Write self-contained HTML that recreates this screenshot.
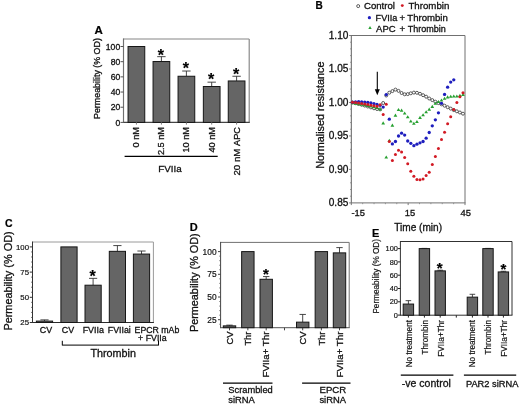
<!DOCTYPE html>
<html><head><meta charset="utf-8"><style>
html,body{margin:0;padding:0;background:#fff;}
body{width:520px;height:407px;overflow:hidden;}
svg{display:block;font-family:"Liberation Sans", sans-serif;filter:blur(0.3px);}
</style></head><body>
<svg width="520" height="407" viewBox="0 0 520 407">
<rect width="520" height="407" fill="#fff"/>
<text x="94.5" y="34.4" font-size="11.5" text-anchor="start" font-weight="bold" fill="#000" stroke="#000" stroke-width="0.2">A</text>
<line x1="123.5" y1="39" x2="249.2" y2="39" stroke="#858585" stroke-width="1.15"/>
<line x1="249.2" y1="39" x2="249.2" y2="122.4" stroke="#858585" stroke-width="1.15"/>
<line x1="123.5" y1="38.42" x2="123.5" y2="122.98" stroke="#707070" stroke-width="1.15"/>
<line x1="123.5" y1="122.4" x2="249.77" y2="122.4" stroke="#454545" stroke-width="1.15"/>
<line x1="120.5" y1="122.4" x2="123.5" y2="122.4" stroke="#555" stroke-width="1"/>
<text x="120.2" y="125.5" font-size="8.6" text-anchor="end" font-weight="normal" fill="#111" stroke="#111" stroke-width="0.3">0</text>
<line x1="120.5" y1="107.22" x2="123.5" y2="107.22" stroke="#555" stroke-width="1"/>
<text x="120.2" y="110.32" font-size="8.6" text-anchor="end" font-weight="normal" fill="#111" stroke="#111" stroke-width="0.3">20</text>
<line x1="120.5" y1="92.04" x2="123.5" y2="92.04" stroke="#555" stroke-width="1"/>
<text x="120.2" y="95.14" font-size="8.6" text-anchor="end" font-weight="normal" fill="#111" stroke="#111" stroke-width="0.3">40</text>
<line x1="120.5" y1="76.86" x2="123.5" y2="76.86" stroke="#555" stroke-width="1"/>
<text x="120.2" y="79.96" font-size="8.6" text-anchor="end" font-weight="normal" fill="#111" stroke="#111" stroke-width="0.3">60</text>
<line x1="120.5" y1="61.68" x2="123.5" y2="61.68" stroke="#555" stroke-width="1"/>
<text x="120.2" y="64.78" font-size="8.6" text-anchor="end" font-weight="normal" fill="#111" stroke="#111" stroke-width="0.3">80</text>
<line x1="120.5" y1="46.5" x2="123.5" y2="46.5" stroke="#555" stroke-width="1"/>
<text x="120.2" y="49.6" font-size="8.6" text-anchor="end" font-weight="normal" fill="#111" stroke="#111" stroke-width="0.3">100</text>
<rect x="128.05" y="46.5" width="16.7" height="75.9" fill="#656565" stroke="#161616" stroke-width="1"/>
<line x1="136.4" y1="122.4" x2="136.4" y2="124.6" stroke="#7a7a7a" stroke-width="1"/>
<line x1="161.4" y1="61.53" x2="161.4" y2="56.67" stroke="#333" stroke-width="0.9"/>
<line x1="157.2" y1="56.67" x2="165.6" y2="56.67" stroke="#333" stroke-width="0.9"/>
<rect x="153.05" y="61.53" width="16.7" height="60.87" fill="#656565" stroke="#161616" stroke-width="1"/>
<text x="160.8" y="60.54" font-size="16" text-anchor="middle" font-weight="bold" fill="#000" stroke="#000" stroke-width="0.2">*</text>
<line x1="161.4" y1="122.4" x2="161.4" y2="124.6" stroke="#7a7a7a" stroke-width="1"/>
<line x1="186.4" y1="76.25" x2="186.4" y2="71.02" stroke="#333" stroke-width="0.9"/>
<line x1="182.2" y1="71.02" x2="190.6" y2="71.02" stroke="#333" stroke-width="0.9"/>
<rect x="178.05" y="76.25" width="16.7" height="46.15" fill="#656565" stroke="#161616" stroke-width="1"/>
<text x="185.8" y="73.74" font-size="16" text-anchor="middle" font-weight="bold" fill="#000" stroke="#000" stroke-width="0.2">*</text>
<line x1="186.4" y1="122.4" x2="186.4" y2="124.6" stroke="#7a7a7a" stroke-width="1"/>
<line x1="211.7" y1="86.5" x2="211.7" y2="82.17" stroke="#333" stroke-width="0.9"/>
<line x1="207.5" y1="82.17" x2="215.9" y2="82.17" stroke="#333" stroke-width="0.9"/>
<rect x="203.35" y="86.5" width="16.7" height="35.9" fill="#656565" stroke="#161616" stroke-width="1"/>
<text x="211.1" y="85.34" font-size="16" text-anchor="middle" font-weight="bold" fill="#000" stroke="#000" stroke-width="0.2">*</text>
<line x1="211.7" y1="122.4" x2="211.7" y2="124.6" stroke="#7a7a7a" stroke-width="1"/>
<line x1="236.6" y1="80.96" x2="236.6" y2="76.25" stroke="#333" stroke-width="0.9"/>
<line x1="232.4" y1="76.25" x2="240.8" y2="76.25" stroke="#333" stroke-width="0.9"/>
<rect x="228.25" y="80.96" width="16.7" height="41.44" fill="#656565" stroke="#161616" stroke-width="1"/>
<text x="236" y="80.04" font-size="16" text-anchor="middle" font-weight="bold" fill="#000" stroke="#000" stroke-width="0.2">*</text>
<line x1="236.6" y1="122.4" x2="236.6" y2="124.6" stroke="#7a7a7a" stroke-width="1"/>
<text x="139.3" y="127" font-size="9.2" text-anchor="end" font-weight="normal" fill="#111" stroke="#111" stroke-width="0.3" transform="rotate(-90 139.3 127)">0 nM</text>
<text x="164.3" y="127" font-size="9.2" text-anchor="end" font-weight="normal" fill="#111" stroke="#111" stroke-width="0.3" transform="rotate(-90 164.3 127)">2.5 nM</text>
<text x="189.3" y="127" font-size="9.2" text-anchor="end" font-weight="normal" fill="#111" stroke="#111" stroke-width="0.3" transform="rotate(-90 189.3 127)">10 nM</text>
<text x="214.6" y="127" font-size="9.2" text-anchor="end" font-weight="normal" fill="#111" stroke="#111" stroke-width="0.3" transform="rotate(-90 214.6 127)">40 nM</text>
<text x="239.5" y="127" font-size="9.2" text-anchor="end" font-weight="normal" fill="#111" stroke="#111" stroke-width="0.3" transform="rotate(-90 239.5 127)"><tspan font-size="9.7">20 nM </tspan>APC</text>
<line x1="124.6" y1="156.3" x2="217.7" y2="156.3" stroke="#000" stroke-width="1.3"/>
<text x="158.3" y="171.6" font-size="9.8" text-anchor="start" font-weight="normal" fill="#111" stroke="#111" stroke-width="0.3">FVIIa</text>
<text x="99.9" y="119" font-size="8.9" text-anchor="start" font-weight="normal" fill="#111" stroke="#111" stroke-width="0.3" transform="rotate(-90 99.9 119)">Permeability (% OD)</text>
<text x="315.45" y="9" font-size="10" text-anchor="start" font-weight="bold" fill="#000" stroke="#000" stroke-width="0.2">B</text>
<line x1="351.3" y1="35.5" x2="465" y2="35.5" stroke="#707070" stroke-width="1"/>
<line x1="465" y1="35.5" x2="465" y2="202.9" stroke="#707070" stroke-width="1"/>
<line x1="351.3" y1="35" x2="351.3" y2="203.4" stroke="#606060" stroke-width="1"/>
<line x1="351.3" y1="202.9" x2="465.5" y2="202.9" stroke="#707070" stroke-width="1"/>
<line x1="349.1" y1="35.5" x2="351.3" y2="35.5" stroke="#7a7a7a" stroke-width="1"/>
<line x1="350" y1="42.2" x2="351.3" y2="42.2" stroke="#7a7a7a" stroke-width="0.7"/>
<line x1="350" y1="48.89" x2="351.3" y2="48.89" stroke="#7a7a7a" stroke-width="0.7"/>
<line x1="350" y1="55.59" x2="351.3" y2="55.59" stroke="#7a7a7a" stroke-width="0.7"/>
<line x1="350" y1="62.28" x2="351.3" y2="62.28" stroke="#7a7a7a" stroke-width="0.7"/>
<line x1="349.1" y1="68.98" x2="351.3" y2="68.98" stroke="#7a7a7a" stroke-width="1"/>
<line x1="350" y1="75.68" x2="351.3" y2="75.68" stroke="#7a7a7a" stroke-width="0.7"/>
<line x1="350" y1="82.37" x2="351.3" y2="82.37" stroke="#7a7a7a" stroke-width="0.7"/>
<line x1="350" y1="89.07" x2="351.3" y2="89.07" stroke="#7a7a7a" stroke-width="0.7"/>
<line x1="350" y1="95.76" x2="351.3" y2="95.76" stroke="#7a7a7a" stroke-width="0.7"/>
<line x1="349.1" y1="102.46" x2="351.3" y2="102.46" stroke="#7a7a7a" stroke-width="1"/>
<line x1="350" y1="109.16" x2="351.3" y2="109.16" stroke="#7a7a7a" stroke-width="0.7"/>
<line x1="350" y1="115.85" x2="351.3" y2="115.85" stroke="#7a7a7a" stroke-width="0.7"/>
<line x1="350" y1="122.55" x2="351.3" y2="122.55" stroke="#7a7a7a" stroke-width="0.7"/>
<line x1="350" y1="129.24" x2="351.3" y2="129.24" stroke="#7a7a7a" stroke-width="0.7"/>
<line x1="349.1" y1="135.94" x2="351.3" y2="135.94" stroke="#7a7a7a" stroke-width="1"/>
<line x1="350" y1="142.64" x2="351.3" y2="142.64" stroke="#7a7a7a" stroke-width="0.7"/>
<line x1="350" y1="149.33" x2="351.3" y2="149.33" stroke="#7a7a7a" stroke-width="0.7"/>
<line x1="350" y1="156.03" x2="351.3" y2="156.03" stroke="#7a7a7a" stroke-width="0.7"/>
<line x1="350" y1="162.72" x2="351.3" y2="162.72" stroke="#7a7a7a" stroke-width="0.7"/>
<line x1="349.1" y1="169.42" x2="351.3" y2="169.42" stroke="#7a7a7a" stroke-width="1"/>
<line x1="350" y1="176.12" x2="351.3" y2="176.12" stroke="#7a7a7a" stroke-width="0.7"/>
<line x1="350" y1="182.81" x2="351.3" y2="182.81" stroke="#7a7a7a" stroke-width="0.7"/>
<line x1="350" y1="189.51" x2="351.3" y2="189.51" stroke="#7a7a7a" stroke-width="0.7"/>
<line x1="350" y1="196.2" x2="351.3" y2="196.2" stroke="#7a7a7a" stroke-width="0.7"/>
<line x1="349.1" y1="202.9" x2="351.3" y2="202.9" stroke="#7a7a7a" stroke-width="1"/>
<text x="348.4" y="39" font-size="10.1" text-anchor="end" font-weight="normal" fill="#111" stroke="#111" stroke-width="0.3">1.10</text>
<text x="348.4" y="72.48" font-size="10.1" text-anchor="end" font-weight="normal" fill="#111" stroke="#111" stroke-width="0.3">1.05</text>
<text x="348.4" y="105.96" font-size="10.1" text-anchor="end" font-weight="normal" fill="#111" stroke="#111" stroke-width="0.3">1.00</text>
<text x="348.4" y="139.44" font-size="10.1" text-anchor="end" font-weight="normal" fill="#111" stroke="#111" stroke-width="0.3">0.95</text>
<text x="348.4" y="172.92" font-size="10.1" text-anchor="end" font-weight="normal" fill="#111" stroke="#111" stroke-width="0.3">0.90</text>
<text x="348.4" y="206.4" font-size="10.1" text-anchor="end" font-weight="normal" fill="#111" stroke="#111" stroke-width="0.3">0.85</text>
<line x1="351.3" y1="202.9" x2="351.3" y2="205.1" stroke="#7a7a7a" stroke-width="1"/>
<line x1="362.67" y1="202.9" x2="362.67" y2="204.2" stroke="#7a7a7a" stroke-width="0.7"/>
<line x1="374.04" y1="202.9" x2="374.04" y2="204.2" stroke="#7a7a7a" stroke-width="0.7"/>
<line x1="385.41" y1="202.9" x2="385.41" y2="204.2" stroke="#7a7a7a" stroke-width="0.7"/>
<line x1="396.78" y1="202.9" x2="396.78" y2="204.2" stroke="#7a7a7a" stroke-width="0.7"/>
<line x1="408.15" y1="202.9" x2="408.15" y2="205.1" stroke="#7a7a7a" stroke-width="1"/>
<line x1="419.52" y1="202.9" x2="419.52" y2="204.2" stroke="#7a7a7a" stroke-width="0.7"/>
<line x1="430.89" y1="202.9" x2="430.89" y2="204.2" stroke="#7a7a7a" stroke-width="0.7"/>
<line x1="442.26" y1="202.9" x2="442.26" y2="204.2" stroke="#7a7a7a" stroke-width="0.7"/>
<line x1="453.63" y1="202.9" x2="453.63" y2="204.2" stroke="#7a7a7a" stroke-width="0.7"/>
<line x1="465" y1="202.9" x2="465" y2="205.1" stroke="#7a7a7a" stroke-width="1"/>
<text x="351.4" y="216.4" font-size="9.4" text-anchor="start" font-weight="normal" fill="#111" stroke="#111" stroke-width="0.3">-15</text>
<text x="409.9" y="216.4" font-size="9.4" text-anchor="middle" font-weight="normal" fill="#111" stroke="#111" stroke-width="0.3">15</text>
<text x="465.8" y="216.4" font-size="9.4" text-anchor="middle" font-weight="normal" fill="#111" stroke="#111" stroke-width="0.3">45</text>
<text x="394.2" y="230.6" font-size="10.1" text-anchor="start" font-weight="normal" fill="#111" stroke="#111" stroke-width="0.3">Time (min)</text>
<text x="323.6" y="168.8" font-size="10.85" text-anchor="start" font-weight="normal" fill="#111" stroke="#111" stroke-width="0.3" transform="rotate(-90 323.6 168.8)">Normalised resistance</text>
<circle cx="358.2" cy="6.1" r="1.5" fill="#fff" stroke="#2a2a2a" stroke-width="0.75"/>
<text x="364" y="9.1" font-size="9.6" text-anchor="start" font-weight="normal" fill="#111" stroke="#111" stroke-width="0.3">Control</text>
<circle cx="402.3" cy="5.6" r="1.45" fill="#d21a24"/>
<text x="408.4" y="9.1" font-size="9.7" text-anchor="start" font-weight="normal" fill="#111" stroke="#111" stroke-width="0.3">Thrombin</text>
<circle cx="369.4" cy="17.7" r="1.6" fill="#1e1ebe"/>
<text x="375.6" y="20.9" font-size="9.1" text-anchor="start" font-weight="normal" fill="#111" stroke="#111" stroke-width="0.3">FVIIa</text>
<text x="402.4" y="20.9" font-size="9.5" text-anchor="middle" font-weight="normal" fill="#111" stroke="#111" stroke-width="0.3">+</text>
<text x="407.3" y="20.9" font-size="9.6" text-anchor="start" font-weight="normal" fill="#111" stroke="#111" stroke-width="0.3">Thrombin</text>
<path d="M368.3 28.9 L371.7 28.9 L370.0 26.0 Z" fill="#26a030"/>
<text x="376.1" y="31.5" font-size="9.5" text-anchor="start" font-weight="normal" fill="#111" stroke="#111" stroke-width="0.3">APC</text>
<text x="402.3" y="31.6" font-size="9.6" text-anchor="middle" font-weight="normal" fill="#111" stroke="#111" stroke-width="0.3">+</text>
<text x="407.7" y="31.5" font-size="9.0" text-anchor="start" font-weight="normal" fill="#111" stroke="#111" stroke-width="0.3">Thrombin</text>
<line x1="377.3" y1="71.8" x2="377.3" y2="90.5" stroke="#000" stroke-width="1.1"/>
<path d="M374.8 89.2 L379.8 89.2 L377.3 95.2 Z" fill="#000"/>
<circle cx="352.47" cy="102.4" r="1.5" fill="#fff" stroke="#2a2a2a" stroke-width="0.75"/>
<circle cx="355.54" cy="103.2" r="1.5" fill="#fff" stroke="#2a2a2a" stroke-width="0.75"/>
<circle cx="358.61" cy="104" r="1.5" fill="#fff" stroke="#2a2a2a" stroke-width="0.75"/>
<circle cx="361.68" cy="104.8" r="1.5" fill="#fff" stroke="#2a2a2a" stroke-width="0.75"/>
<circle cx="364.75" cy="105.6" r="1.5" fill="#fff" stroke="#2a2a2a" stroke-width="0.75"/>
<circle cx="367.82" cy="106.5" r="1.5" fill="#fff" stroke="#2a2a2a" stroke-width="0.75"/>
<circle cx="370.89" cy="107.4" r="1.5" fill="#fff" stroke="#2a2a2a" stroke-width="0.75"/>
<circle cx="373.96" cy="108.3" r="1.5" fill="#fff" stroke="#2a2a2a" stroke-width="0.75"/>
<circle cx="377.03" cy="109" r="1.5" fill="#fff" stroke="#2a2a2a" stroke-width="0.75"/>
<circle cx="380.1" cy="109.4" r="1.5" fill="#fff" stroke="#2a2a2a" stroke-width="0.75"/>
<circle cx="383.17" cy="103" r="1.5" fill="#fff" stroke="#2a2a2a" stroke-width="0.75"/>
<circle cx="386.24" cy="95.5" r="1.5" fill="#fff" stroke="#2a2a2a" stroke-width="0.75"/>
<circle cx="389.31" cy="92.7" r="1.5" fill="#fff" stroke="#2a2a2a" stroke-width="0.75"/>
<circle cx="392.38" cy="91.1" r="1.5" fill="#fff" stroke="#2a2a2a" stroke-width="0.75"/>
<circle cx="395.45" cy="89.6" r="1.5" fill="#fff" stroke="#2a2a2a" stroke-width="0.75"/>
<circle cx="398.52" cy="90.9" r="1.5" fill="#fff" stroke="#2a2a2a" stroke-width="0.75"/>
<circle cx="401.59" cy="93" r="1.5" fill="#fff" stroke="#2a2a2a" stroke-width="0.75"/>
<circle cx="404.66" cy="94.3" r="1.5" fill="#fff" stroke="#2a2a2a" stroke-width="0.75"/>
<circle cx="407.73" cy="94.1" r="1.5" fill="#fff" stroke="#2a2a2a" stroke-width="0.75"/>
<circle cx="410.8" cy="93.3" r="1.5" fill="#fff" stroke="#2a2a2a" stroke-width="0.75"/>
<circle cx="413.87" cy="92.6" r="1.5" fill="#fff" stroke="#2a2a2a" stroke-width="0.75"/>
<circle cx="416.94" cy="92.8" r="1.5" fill="#fff" stroke="#2a2a2a" stroke-width="0.75"/>
<circle cx="420.01" cy="93.8" r="1.5" fill="#fff" stroke="#2a2a2a" stroke-width="0.75"/>
<circle cx="423.08" cy="95.2" r="1.5" fill="#fff" stroke="#2a2a2a" stroke-width="0.75"/>
<circle cx="426.15" cy="96.7" r="1.5" fill="#fff" stroke="#2a2a2a" stroke-width="0.75"/>
<circle cx="429.22" cy="98.5" r="1.5" fill="#fff" stroke="#2a2a2a" stroke-width="0.75"/>
<circle cx="432.29" cy="100.1" r="1.5" fill="#fff" stroke="#2a2a2a" stroke-width="0.75"/>
<circle cx="435.36" cy="101.7" r="1.5" fill="#fff" stroke="#2a2a2a" stroke-width="0.75"/>
<circle cx="438.43" cy="103.1" r="1.5" fill="#fff" stroke="#2a2a2a" stroke-width="0.75"/>
<circle cx="441.5" cy="104.3" r="1.5" fill="#fff" stroke="#2a2a2a" stroke-width="0.75"/>
<circle cx="444.57" cy="105.7" r="1.5" fill="#fff" stroke="#2a2a2a" stroke-width="0.75"/>
<circle cx="447.64" cy="107.2" r="1.5" fill="#fff" stroke="#2a2a2a" stroke-width="0.75"/>
<circle cx="450.71" cy="108.6" r="1.5" fill="#fff" stroke="#2a2a2a" stroke-width="0.75"/>
<circle cx="453.78" cy="110.1" r="1.5" fill="#fff" stroke="#2a2a2a" stroke-width="0.75"/>
<circle cx="456.85" cy="111.3" r="1.5" fill="#fff" stroke="#2a2a2a" stroke-width="0.75"/>
<circle cx="459.92" cy="112.5" r="1.5" fill="#fff" stroke="#2a2a2a" stroke-width="0.75"/>
<circle cx="462.99" cy="113.7" r="1.5" fill="#fff" stroke="#2a2a2a" stroke-width="0.75"/>
<path d="M350.62 104.3 L354.32 104.3 L352.47 101.2 Z" fill="#26a030"/>
<path d="M353.69 104.8 L357.39 104.8 L355.54 101.7 Z" fill="#26a030"/>
<path d="M356.76 105.3 L360.46 105.3 L358.61 102.2 Z" fill="#26a030"/>
<path d="M359.83 105.8 L363.53 105.8 L361.68 102.7 Z" fill="#26a030"/>
<path d="M362.9 106.3 L366.6 106.3 L364.75 103.2 Z" fill="#26a030"/>
<path d="M365.97 106.9 L369.67 106.9 L367.82 103.8 Z" fill="#26a030"/>
<path d="M369.04 107.6 L372.74 107.6 L370.89 104.5 Z" fill="#26a030"/>
<path d="M372.11 108.3 L375.81 108.3 L373.96 105.2 Z" fill="#26a030"/>
<path d="M375.18 109.1 L378.88 109.1 L377.03 106 Z" fill="#26a030"/>
<path d="M378.25 110.6 L381.95 110.6 L380.1 107.5 Z" fill="#26a030"/>
<path d="M381.32 124.4 L385.02 124.4 L383.17 121.3 Z" fill="#26a030"/>
<path d="M384.39 158.6 L388.09 158.6 L386.24 155.5 Z" fill="#26a030"/>
<path d="M387.46 141.8 L391.16 141.8 L389.31 138.7 Z" fill="#26a030"/>
<path d="M390.53 126.7 L394.23 126.7 L392.38 123.6 Z" fill="#26a030"/>
<path d="M393.6 116.7 L397.3 116.7 L395.45 113.6 Z" fill="#26a030"/>
<path d="M396.67 111.1 L400.37 111.1 L398.52 108 Z" fill="#26a030"/>
<path d="M399.74 111.7 L403.44 111.7 L401.59 108.6 Z" fill="#26a030"/>
<path d="M402.81 114.5 L406.51 114.5 L404.66 111.4 Z" fill="#26a030"/>
<path d="M405.88 118.3 L409.58 118.3 L407.73 115.2 Z" fill="#26a030"/>
<path d="M408.95 122.6 L412.65 122.6 L410.8 119.5 Z" fill="#26a030"/>
<path d="M412.02 124.8 L415.72 124.8 L413.87 121.7 Z" fill="#26a030"/>
<path d="M415.09 123 L418.79 123 L416.94 119.9 Z" fill="#26a030"/>
<path d="M418.16 118.9 L421.86 118.9 L420.01 115.8 Z" fill="#26a030"/>
<path d="M421.23 116.3 L424.93 116.3 L423.08 113.2 Z" fill="#26a030"/>
<path d="M424.3 113.3 L428 113.3 L426.15 110.2 Z" fill="#26a030"/>
<path d="M427.37 110.7 L431.07 110.7 L429.22 107.6 Z" fill="#26a030"/>
<path d="M430.44 107.9 L434.14 107.9 L432.29 104.8 Z" fill="#26a030"/>
<path d="M433.51 104.8 L437.21 104.8 L435.36 101.7 Z" fill="#26a030"/>
<path d="M436.58 103 L440.28 103 L438.43 99.9 Z" fill="#26a030"/>
<path d="M439.65 101.5 L443.35 101.5 L441.5 98.4 Z" fill="#26a030"/>
<path d="M442.72 99.8 L446.42 99.8 L444.57 96.7 Z" fill="#26a030"/>
<path d="M445.79 98.4 L449.49 98.4 L447.64 95.3 Z" fill="#26a030"/>
<path d="M448.86 97.8 L452.56 97.8 L450.71 94.7 Z" fill="#26a030"/>
<path d="M451.93 97.5 L455.63 97.5 L453.78 94.4 Z" fill="#26a030"/>
<path d="M455 97.5 L458.7 97.5 L456.85 94.4 Z" fill="#26a030"/>
<path d="M458.07 96.9 L461.77 96.9 L459.92 93.8 Z" fill="#26a030"/>
<path d="M461.14 96.1 L464.84 96.1 L462.99 93 Z" fill="#26a030"/>
<circle cx="352.47" cy="102.3" r="1.65" fill="#1e1ebe"/>
<circle cx="355.54" cy="102" r="1.65" fill="#1e1ebe"/>
<circle cx="358.61" cy="101.6" r="1.65" fill="#1e1ebe"/>
<circle cx="361.68" cy="101.8" r="1.65" fill="#1e1ebe"/>
<circle cx="364.75" cy="102.1" r="1.65" fill="#1e1ebe"/>
<circle cx="367.82" cy="102.5" r="1.65" fill="#1e1ebe"/>
<circle cx="370.89" cy="103" r="1.65" fill="#1e1ebe"/>
<circle cx="373.96" cy="103.6" r="1.65" fill="#1e1ebe"/>
<circle cx="377.03" cy="104.4" r="1.65" fill="#1e1ebe"/>
<circle cx="380.1" cy="105.3" r="1.65" fill="#1e1ebe"/>
<circle cx="383.17" cy="107.1" r="1.65" fill="#1e1ebe"/>
<circle cx="386.24" cy="94.6" r="1.65" fill="#1e1ebe"/>
<circle cx="389.31" cy="119.2" r="1.65" fill="#1e1ebe"/>
<circle cx="392.38" cy="143.9" r="1.65" fill="#1e1ebe"/>
<circle cx="395.45" cy="141.5" r="1.65" fill="#1e1ebe"/>
<circle cx="398.52" cy="136" r="1.65" fill="#1e1ebe"/>
<circle cx="401.59" cy="133.2" r="1.65" fill="#1e1ebe"/>
<circle cx="404.66" cy="135.1" r="1.65" fill="#1e1ebe"/>
<circle cx="407.73" cy="141" r="1.65" fill="#1e1ebe"/>
<circle cx="410.8" cy="143.3" r="1.65" fill="#1e1ebe"/>
<circle cx="413.87" cy="145.7" r="1.65" fill="#1e1ebe"/>
<circle cx="416.94" cy="144.2" r="1.65" fill="#1e1ebe"/>
<circle cx="420.01" cy="142.8" r="1.65" fill="#1e1ebe"/>
<circle cx="423.08" cy="141.5" r="1.65" fill="#1e1ebe"/>
<circle cx="426.15" cy="138.2" r="1.65" fill="#1e1ebe"/>
<circle cx="429.22" cy="132.5" r="1.65" fill="#1e1ebe"/>
<circle cx="432.29" cy="125.8" r="1.65" fill="#1e1ebe"/>
<circle cx="435.36" cy="119.8" r="1.65" fill="#1e1ebe"/>
<circle cx="438.43" cy="112.8" r="1.65" fill="#1e1ebe"/>
<circle cx="441.5" cy="103.3" r="1.65" fill="#1e1ebe"/>
<circle cx="444.57" cy="94.4" r="1.65" fill="#1e1ebe"/>
<circle cx="447.64" cy="87.2" r="1.65" fill="#1e1ebe"/>
<circle cx="450.71" cy="82.1" r="1.65" fill="#1e1ebe"/>
<circle cx="453.78" cy="79.8" r="1.65" fill="#1e1ebe"/>
<circle cx="352.47" cy="102.2" r="1.5" fill="#d21a24"/>
<circle cx="355.54" cy="102.6" r="1.5" fill="#d21a24"/>
<circle cx="358.61" cy="103.1" r="1.5" fill="#d21a24"/>
<circle cx="361.68" cy="103.6" r="1.5" fill="#d21a24"/>
<circle cx="364.75" cy="104.1" r="1.5" fill="#d21a24"/>
<circle cx="367.82" cy="104.6" r="1.5" fill="#d21a24"/>
<circle cx="370.89" cy="105.2" r="1.5" fill="#d21a24"/>
<circle cx="373.96" cy="105.7" r="1.5" fill="#d21a24"/>
<circle cx="377.03" cy="106.2" r="1.5" fill="#d21a24"/>
<circle cx="380.1" cy="104.7" r="1.5" fill="#d21a24"/>
<circle cx="383.17" cy="114.6" r="1.5" fill="#d21a24"/>
<circle cx="386.24" cy="104.2" r="1.5" fill="#d21a24"/>
<circle cx="389.31" cy="141.5" r="1.5" fill="#d21a24"/>
<circle cx="392.38" cy="160.5" r="1.5" fill="#d21a24"/>
<circle cx="395.45" cy="154.5" r="1.5" fill="#d21a24"/>
<circle cx="398.52" cy="150.3" r="1.5" fill="#d21a24"/>
<circle cx="401.59" cy="151.9" r="1.5" fill="#d21a24"/>
<circle cx="404.66" cy="157.6" r="1.5" fill="#d21a24"/>
<circle cx="407.73" cy="163.7" r="1.5" fill="#d21a24"/>
<circle cx="410.8" cy="171.3" r="1.5" fill="#d21a24"/>
<circle cx="413.87" cy="176.3" r="1.5" fill="#d21a24"/>
<circle cx="416.94" cy="179.4" r="1.5" fill="#d21a24"/>
<circle cx="420.01" cy="179.8" r="1.5" fill="#d21a24"/>
<circle cx="423.08" cy="179" r="1.5" fill="#d21a24"/>
<circle cx="426.15" cy="175.6" r="1.5" fill="#d21a24"/>
<circle cx="429.22" cy="172.2" r="1.5" fill="#d21a24"/>
<circle cx="432.29" cy="164.6" r="1.5" fill="#d21a24"/>
<circle cx="435.36" cy="156.5" r="1.5" fill="#d21a24"/>
<circle cx="438.43" cy="148.5" r="1.5" fill="#d21a24"/>
<circle cx="441.5" cy="139.4" r="1.5" fill="#d21a24"/>
<circle cx="444.57" cy="132.3" r="1.5" fill="#d21a24"/>
<circle cx="447.64" cy="123.8" r="1.5" fill="#d21a24"/>
<circle cx="450.71" cy="116.8" r="1.5" fill="#d21a24"/>
<circle cx="453.78" cy="109.6" r="1.5" fill="#d21a24"/>
<circle cx="456.85" cy="102.5" r="1.5" fill="#d21a24"/>
<circle cx="459.92" cy="96.7" r="1.5" fill="#d21a24"/>
<circle cx="462.99" cy="92.7" r="1.5" fill="#d21a24"/>
<text x="4.9" y="226.7" font-size="10.5" text-anchor="start" font-weight="bold" fill="#000" stroke="#000" stroke-width="0.2">C</text>
<line x1="32.5" y1="242" x2="153.4" y2="242" stroke="#9a9a9a" stroke-width="1"/>
<line x1="153.4" y1="242" x2="153.4" y2="322.5" stroke="#9a9a9a" stroke-width="1"/>
<line x1="32.5" y1="241.5" x2="32.5" y2="323" stroke="#333" stroke-width="1"/>
<line x1="32.5" y1="322.5" x2="153.9" y2="322.5" stroke="#2a2a2a" stroke-width="1"/>
<line x1="29.7" y1="322.5" x2="32.5" y2="322.5" stroke="#333" stroke-width="1"/>
<text x="29" y="325.2" font-size="7.8" text-anchor="end" font-weight="normal" fill="#111" stroke="#111" stroke-width="0.18">25</text>
<line x1="31" y1="317.46" x2="32.5" y2="317.46" stroke="#444" stroke-width="0.7"/>
<line x1="31" y1="312.42" x2="32.5" y2="312.42" stroke="#444" stroke-width="0.7"/>
<line x1="31" y1="307.38" x2="32.5" y2="307.38" stroke="#444" stroke-width="0.7"/>
<line x1="31" y1="302.34" x2="32.5" y2="302.34" stroke="#444" stroke-width="0.7"/>
<line x1="29.7" y1="297.3" x2="32.5" y2="297.3" stroke="#333" stroke-width="1"/>
<text x="29" y="300" font-size="7.8" text-anchor="end" font-weight="normal" fill="#111" stroke="#111" stroke-width="0.18">50</text>
<line x1="31" y1="292.26" x2="32.5" y2="292.26" stroke="#444" stroke-width="0.7"/>
<line x1="31" y1="287.22" x2="32.5" y2="287.22" stroke="#444" stroke-width="0.7"/>
<line x1="31" y1="282.18" x2="32.5" y2="282.18" stroke="#444" stroke-width="0.7"/>
<line x1="31" y1="277.14" x2="32.5" y2="277.14" stroke="#444" stroke-width="0.7"/>
<line x1="29.7" y1="272.1" x2="32.5" y2="272.1" stroke="#333" stroke-width="1"/>
<text x="29" y="274.8" font-size="7.8" text-anchor="end" font-weight="normal" fill="#111" stroke="#111" stroke-width="0.18">75</text>
<line x1="31" y1="267.06" x2="32.5" y2="267.06" stroke="#444" stroke-width="0.7"/>
<line x1="31" y1="262.02" x2="32.5" y2="262.02" stroke="#444" stroke-width="0.7"/>
<line x1="31" y1="256.98" x2="32.5" y2="256.98" stroke="#444" stroke-width="0.7"/>
<line x1="31" y1="251.94" x2="32.5" y2="251.94" stroke="#444" stroke-width="0.7"/>
<line x1="29.7" y1="246.9" x2="32.5" y2="246.9" stroke="#333" stroke-width="1"/>
<text x="29" y="249.6" font-size="7.8" text-anchor="end" font-weight="normal" fill="#111" stroke="#111" stroke-width="0.18">100</text>
<line x1="44.5" y1="321.09" x2="44.5" y2="319.88" stroke="#333" stroke-width="0.9"/>
<line x1="40.4" y1="319.88" x2="48.6" y2="319.88" stroke="#333" stroke-width="0.9"/>
<rect x="36.4" y="321.09" width="16.2" height="1.41" fill="#656565" stroke="#161616" stroke-width="1"/>
<rect x="60.9" y="246.9" width="16.2" height="75.6" fill="#656565" stroke="#161616" stroke-width="1"/>
<line x1="93.1" y1="285.2" x2="93.1" y2="278.35" stroke="#333" stroke-width="0.9"/>
<line x1="89" y1="278.35" x2="97.2" y2="278.35" stroke="#333" stroke-width="0.9"/>
<rect x="85" y="285.2" width="16.2" height="37.3" fill="#656565" stroke="#161616" stroke-width="1"/>
<line x1="117.4" y1="251.34" x2="117.4" y2="245.59" stroke="#333" stroke-width="0.9"/>
<line x1="113.3" y1="245.59" x2="121.5" y2="245.59" stroke="#333" stroke-width="0.9"/>
<rect x="109.3" y="251.34" width="16.2" height="71.16" fill="#656565" stroke="#161616" stroke-width="1"/>
<line x1="141.5" y1="254.06" x2="141.5" y2="251.03" stroke="#333" stroke-width="0.9"/>
<line x1="137.4" y1="251.03" x2="145.6" y2="251.03" stroke="#333" stroke-width="0.9"/>
<rect x="133.4" y="254.06" width="16.2" height="68.44" fill="#656565" stroke="#161616" stroke-width="1"/>
<text x="92.5" y="281.94" font-size="16" text-anchor="middle" font-weight="bold" fill="#000" stroke="#000" stroke-width="0.2">*</text>
<text x="46" y="332.6" font-size="8.9" text-anchor="middle" font-weight="normal" fill="#111" stroke="#111" stroke-width="0.3">CV</text>
<text x="68" y="332.6" font-size="8.9" text-anchor="middle" font-weight="normal" fill="#111" stroke="#111" stroke-width="0.3">CV</text>
<text x="93.3" y="332.6" font-size="8.9" text-anchor="middle" font-weight="normal" fill="#111" stroke="#111" stroke-width="0.3">FVIIa</text>
<text x="107.8" y="332.6" font-size="8.8" text-anchor="start" font-weight="normal" fill="#111" stroke="#111" stroke-width="0.3">FVIIai</text>
<text x="134.6" y="332.6" font-size="8.75" text-anchor="start" font-weight="normal" fill="#111" stroke="#111" stroke-width="0.3">EPCR mAb</text>
<text x="138.1" y="340.7" font-size="8.8" text-anchor="start" font-weight="normal" fill="#111" stroke="#111" stroke-width="0.3">+ FVIIa</text>
<line x1="62.3" y1="340.8" x2="62.3" y2="345.4" stroke="#000" stroke-width="1"/>
<line x1="62.3" y1="345.1" x2="158.5" y2="345.1" stroke="#000" stroke-width="1"/>
<line x1="158.5" y1="340.8" x2="158.5" y2="345.4" stroke="#000" stroke-width="1"/>
<text x="90.4" y="356.9" font-size="10.8" text-anchor="start" font-weight="normal" fill="#111" stroke="#111" stroke-width="0.3">Thrombin</text>
<text x="12.2" y="330.6" font-size="10.9" text-anchor="start" font-weight="normal" fill="#111" stroke="#111" stroke-width="0.3" transform="rotate(-90 12.2 330.6)">Permeability (% OD)</text>
<text x="189.7" y="231.3" font-size="11" text-anchor="start" font-weight="bold" fill="#000" stroke="#000" stroke-width="0.2">D</text>
<line x1="220.6" y1="242.4" x2="349.2" y2="242.4" stroke="#707070" stroke-width="1"/>
<line x1="349.2" y1="242.4" x2="349.2" y2="327.7" stroke="#707070" stroke-width="1"/>
<line x1="220.6" y1="241.9" x2="220.6" y2="328.2" stroke="#444" stroke-width="1"/>
<line x1="220.6" y1="327.7" x2="349.7" y2="327.7" stroke="#555" stroke-width="1"/>
<line x1="219.2" y1="324.24" x2="220.6" y2="324.24" stroke="#555" stroke-width="0.7"/>
<line x1="218" y1="319.7" x2="220.6" y2="319.7" stroke="#444" stroke-width="1"/>
<text x="216.6" y="322.7" font-size="8.4" text-anchor="end" font-weight="normal" fill="#111" stroke="#111" stroke-width="0.18">25</text>
<line x1="219.2" y1="315.16" x2="220.6" y2="315.16" stroke="#555" stroke-width="0.7"/>
<line x1="219.2" y1="310.62" x2="220.6" y2="310.62" stroke="#555" stroke-width="0.7"/>
<line x1="219.2" y1="306.08" x2="220.6" y2="306.08" stroke="#555" stroke-width="0.7"/>
<line x1="219.2" y1="301.54" x2="220.6" y2="301.54" stroke="#555" stroke-width="0.7"/>
<line x1="218" y1="297" x2="220.6" y2="297" stroke="#444" stroke-width="1"/>
<text x="216.6" y="300" font-size="8.4" text-anchor="end" font-weight="normal" fill="#111" stroke="#111" stroke-width="0.18">50</text>
<line x1="219.2" y1="292.46" x2="220.6" y2="292.46" stroke="#555" stroke-width="0.7"/>
<line x1="219.2" y1="287.92" x2="220.6" y2="287.92" stroke="#555" stroke-width="0.7"/>
<line x1="219.2" y1="283.38" x2="220.6" y2="283.38" stroke="#555" stroke-width="0.7"/>
<line x1="219.2" y1="278.84" x2="220.6" y2="278.84" stroke="#555" stroke-width="0.7"/>
<line x1="218" y1="274.3" x2="220.6" y2="274.3" stroke="#444" stroke-width="1"/>
<text x="216.6" y="277.3" font-size="8.4" text-anchor="end" font-weight="normal" fill="#111" stroke="#111" stroke-width="0.18">75</text>
<line x1="219.2" y1="269.76" x2="220.6" y2="269.76" stroke="#555" stroke-width="0.7"/>
<line x1="219.2" y1="265.22" x2="220.6" y2="265.22" stroke="#555" stroke-width="0.7"/>
<line x1="219.2" y1="260.68" x2="220.6" y2="260.68" stroke="#555" stroke-width="0.7"/>
<line x1="219.2" y1="256.14" x2="220.6" y2="256.14" stroke="#555" stroke-width="0.7"/>
<line x1="218" y1="251.6" x2="220.6" y2="251.6" stroke="#444" stroke-width="1"/>
<text x="216.6" y="254.6" font-size="8.4" text-anchor="end" font-weight="normal" fill="#111" stroke="#111" stroke-width="0.18">100</text>
<line x1="229.5" y1="327.7" x2="229.5" y2="330.3" stroke="#444" stroke-width="1"/>
<line x1="229.5" y1="325.87" x2="229.5" y2="325.15" stroke="#333" stroke-width="0.9"/>
<line x1="226.3" y1="325.15" x2="232.7" y2="325.15" stroke="#333" stroke-width="0.9"/>
<rect x="223.3" y="325.87" width="12.4" height="1.83" fill="#656565" stroke="#161616" stroke-width="1"/>
<line x1="247.85" y1="327.7" x2="247.85" y2="330.3" stroke="#444" stroke-width="1"/>
<rect x="241.65" y="251.6" width="12.4" height="76.1" fill="#656565" stroke="#161616" stroke-width="1"/>
<line x1="266.2" y1="327.7" x2="266.2" y2="330.3" stroke="#444" stroke-width="1"/>
<line x1="266.2" y1="279.29" x2="266.2" y2="276.57" stroke="#333" stroke-width="0.9"/>
<line x1="263" y1="276.57" x2="269.4" y2="276.57" stroke="#333" stroke-width="0.9"/>
<rect x="260" y="279.29" width="12.4" height="48.41" fill="#656565" stroke="#161616" stroke-width="1"/>
<line x1="284.5" y1="327.7" x2="284.5" y2="330.3" stroke="#444" stroke-width="1"/>
<line x1="302.7" y1="327.7" x2="302.7" y2="330.3" stroke="#444" stroke-width="1"/>
<line x1="302.7" y1="322.15" x2="302.7" y2="314.43" stroke="#333" stroke-width="0.9"/>
<line x1="299.5" y1="314.43" x2="305.9" y2="314.43" stroke="#333" stroke-width="0.9"/>
<rect x="296.5" y="322.15" width="12.4" height="5.55" fill="#656565" stroke="#161616" stroke-width="1"/>
<line x1="321.35" y1="327.7" x2="321.35" y2="330.3" stroke="#444" stroke-width="1"/>
<rect x="315.15" y="251.6" width="12.4" height="76.1" fill="#656565" stroke="#161616" stroke-width="1"/>
<line x1="339.5" y1="327.7" x2="339.5" y2="330.3" stroke="#444" stroke-width="1"/>
<line x1="339.5" y1="252.87" x2="339.5" y2="247.6" stroke="#333" stroke-width="0.9"/>
<line x1="336.3" y1="247.6" x2="342.7" y2="247.6" stroke="#333" stroke-width="0.9"/>
<rect x="333.3" y="252.87" width="12.4" height="74.83" fill="#656565" stroke="#161616" stroke-width="1"/>
<text x="265.8" y="278.75" font-size="15" text-anchor="middle" font-weight="bold" fill="#000" stroke="#000" stroke-width="0.2">*</text>
<text x="232.8" y="331.6" font-size="9.3" text-anchor="end" font-weight="normal" fill="#111" stroke="#111" stroke-width="0.3" transform="rotate(-90 232.8 331.6)">CV</text>
<text x="251.15" y="331.6" font-size="9.3" text-anchor="end" font-weight="normal" fill="#111" stroke="#111" stroke-width="0.3" transform="rotate(-90 251.15 331.6)">Thr</text>
<text x="269.5" y="331.6" font-size="9.7" text-anchor="end" font-weight="normal" fill="#111" stroke="#111" stroke-width="0.3" transform="rotate(-90 269.5 331.6)">FVIIa+ Thr</text>
<text x="306" y="331.6" font-size="9.3" text-anchor="end" font-weight="normal" fill="#111" stroke="#111" stroke-width="0.3" transform="rotate(-90 306 331.6)">CV</text>
<text x="324.65" y="331.6" font-size="9.3" text-anchor="end" font-weight="normal" fill="#111" stroke="#111" stroke-width="0.3" transform="rotate(-90 324.65 331.6)">Thr</text>
<text x="342.8" y="331.6" font-size="9.7" text-anchor="end" font-weight="normal" fill="#111" stroke="#111" stroke-width="0.3" transform="rotate(-90 342.8 331.6)">FVIIa+ Thr</text>
<line x1="223" y1="383.1" x2="272.5" y2="383.1" stroke="#000" stroke-width="1.1"/>
<line x1="302.1" y1="383.1" x2="350.5" y2="383.1" stroke="#000" stroke-width="1.1"/>
<text x="228.3" y="392.9" font-size="9.3" text-anchor="start" font-weight="normal" fill="#111" stroke="#111" stroke-width="0.3">Scrambled</text>
<text x="228.3" y="402.9" font-size="9.4" text-anchor="start" font-weight="normal" fill="#111" stroke="#111" stroke-width="0.3">siRNA</text>
<text x="346.2" y="392.9" font-size="9.6" text-anchor="end" font-weight="normal" fill="#111" stroke="#111" stroke-width="0.3">EPCR</text>
<text x="346" y="402.9" font-size="9.4" text-anchor="end" font-weight="normal" fill="#111" stroke="#111" stroke-width="0.3">siRNA</text>
<text x="197.6" y="332.1" font-size="10.85" text-anchor="start" font-weight="normal" fill="#111" stroke="#111" stroke-width="0.3" transform="rotate(-90 197.6 332.1)">Permeability (% OD)</text>
<text x="372" y="237.1" font-size="11" text-anchor="start" font-weight="bold" fill="#000" stroke="#000" stroke-width="0.2">E</text>
<line x1="400.4" y1="241.5" x2="512" y2="241.5" stroke="#1a1a1a" stroke-width="0.9"/>
<line x1="512" y1="241.5" x2="512" y2="315.2" stroke="#1a1a1a" stroke-width="0.9"/>
<line x1="400.4" y1="241.05" x2="400.4" y2="315.65" stroke="#1a1a1a" stroke-width="0.9"/>
<line x1="400.4" y1="315.2" x2="512.45" y2="315.2" stroke="#1a1a1a" stroke-width="0.9"/>
<line x1="398" y1="315.1" x2="400.4" y2="315.1" stroke="#222" stroke-width="1"/>
<text x="397.9" y="317.7" font-size="7.4" text-anchor="end" font-weight="normal" fill="#111" stroke="#111" stroke-width="0.18">0</text>
<line x1="398" y1="301.8" x2="400.4" y2="301.8" stroke="#222" stroke-width="1"/>
<text x="397.9" y="304.4" font-size="7.4" text-anchor="end" font-weight="normal" fill="#111" stroke="#111" stroke-width="0.18">20</text>
<line x1="398" y1="288.5" x2="400.4" y2="288.5" stroke="#222" stroke-width="1"/>
<text x="397.9" y="291.1" font-size="7.4" text-anchor="end" font-weight="normal" fill="#111" stroke="#111" stroke-width="0.18">40</text>
<line x1="398" y1="275.2" x2="400.4" y2="275.2" stroke="#222" stroke-width="1"/>
<text x="397.9" y="277.8" font-size="7.4" text-anchor="end" font-weight="normal" fill="#111" stroke="#111" stroke-width="0.18">60</text>
<line x1="398" y1="261.9" x2="400.4" y2="261.9" stroke="#222" stroke-width="1"/>
<text x="397.9" y="264.5" font-size="7.4" text-anchor="end" font-weight="normal" fill="#111" stroke="#111" stroke-width="0.18">80</text>
<line x1="398" y1="248.6" x2="400.4" y2="248.6" stroke="#222" stroke-width="1"/>
<text x="397.9" y="251.2" font-size="7.4" text-anchor="end" font-weight="normal" fill="#111" stroke="#111" stroke-width="0.18">100</text>
<line x1="408.4" y1="315.2" x2="408.4" y2="317.6" stroke="#222" stroke-width="1"/>
<line x1="408.4" y1="304.06" x2="408.4" y2="300.67" stroke="#333" stroke-width="0.9"/>
<line x1="405.6" y1="300.67" x2="411.2" y2="300.67" stroke="#333" stroke-width="0.9"/>
<rect x="403.2" y="304.06" width="10.4" height="11.14" fill="#656565" stroke="#161616" stroke-width="1"/>
<line x1="424.4" y1="315.2" x2="424.4" y2="317.6" stroke="#222" stroke-width="1"/>
<line x1="424.4" y1="248.6" x2="424.4" y2="248.4" stroke="#333" stroke-width="0.9"/>
<line x1="421.6" y1="248.4" x2="427.2" y2="248.4" stroke="#333" stroke-width="0.9"/>
<rect x="419.2" y="248.6" width="10.4" height="66.6" fill="#656565" stroke="#161616" stroke-width="1"/>
<line x1="440.2" y1="315.2" x2="440.2" y2="317.6" stroke="#222" stroke-width="1"/>
<line x1="440.2" y1="270.88" x2="440.2" y2="270.21" stroke="#333" stroke-width="0.9"/>
<line x1="437.4" y1="270.21" x2="443" y2="270.21" stroke="#333" stroke-width="0.9"/>
<rect x="435" y="270.88" width="10.4" height="44.32" fill="#656565" stroke="#161616" stroke-width="1"/>
<line x1="456.3" y1="315.2" x2="456.3" y2="317.6" stroke="#222" stroke-width="1"/>
<line x1="472.4" y1="315.2" x2="472.4" y2="317.6" stroke="#222" stroke-width="1"/>
<line x1="472.4" y1="297.15" x2="472.4" y2="294.29" stroke="#333" stroke-width="0.9"/>
<line x1="469.6" y1="294.29" x2="475.2" y2="294.29" stroke="#333" stroke-width="0.9"/>
<rect x="467.2" y="297.15" width="10.4" height="18.05" fill="#656565" stroke="#161616" stroke-width="1"/>
<line x1="488" y1="315.2" x2="488" y2="317.6" stroke="#222" stroke-width="1"/>
<line x1="488" y1="248.6" x2="488" y2="248.4" stroke="#333" stroke-width="0.9"/>
<line x1="485.2" y1="248.4" x2="490.8" y2="248.4" stroke="#333" stroke-width="0.9"/>
<rect x="482.8" y="248.6" width="10.4" height="66.6" fill="#656565" stroke="#161616" stroke-width="1"/>
<line x1="503.4" y1="315.2" x2="503.4" y2="317.6" stroke="#222" stroke-width="1"/>
<line x1="503.4" y1="271.94" x2="503.4" y2="271.28" stroke="#333" stroke-width="0.9"/>
<line x1="500.6" y1="271.28" x2="506.2" y2="271.28" stroke="#333" stroke-width="0.9"/>
<rect x="498.2" y="271.94" width="10.4" height="43.26" fill="#656565" stroke="#161616" stroke-width="1"/>
<text x="439.7" y="272.65" font-size="15" text-anchor="middle" font-weight="bold" fill="#000" stroke="#000" stroke-width="0.2">*</text>
<text x="503.5" y="274.35" font-size="15" text-anchor="middle" font-weight="bold" fill="#000" stroke="#000" stroke-width="0.2">*</text>
<text x="412" y="320" font-size="8.2" text-anchor="end" font-weight="normal" fill="#111" stroke="#111" stroke-width="0.18" transform="rotate(-90 412 320)">No treatment</text>
<text x="427.75" y="320" font-size="8.2" text-anchor="end" font-weight="normal" fill="#111" stroke="#111" stroke-width="0.18" transform="rotate(-90 427.75 320)">Thrombin</text>
<text x="444" y="320" font-size="8.2" text-anchor="end" font-weight="normal" fill="#111" stroke="#111" stroke-width="0.18" transform="rotate(-90 444 320)">FVIIa+Thr</text>
<text x="475.4" y="320" font-size="8.2" text-anchor="end" font-weight="normal" fill="#111" stroke="#111" stroke-width="0.18" transform="rotate(-90 475.4 320)">No treatment</text>
<text x="491.1" y="320" font-size="8.2" text-anchor="end" font-weight="normal" fill="#111" stroke="#111" stroke-width="0.18" transform="rotate(-90 491.1 320)">Thrombin</text>
<text x="506.9" y="320" font-size="8.2" text-anchor="end" font-weight="normal" fill="#111" stroke="#111" stroke-width="0.18" transform="rotate(-90 506.9 320)">FVIIa+Thr</text>
<line x1="400.8" y1="375.1" x2="453.4" y2="375.1" stroke="#000" stroke-width="1.1"/>
<line x1="463.9" y1="375.1" x2="516.2" y2="375.1" stroke="#000" stroke-width="1.1"/>
<text x="401.8" y="387.3" font-size="10.5" text-anchor="start" font-weight="normal" fill="#111" stroke="#111" stroke-width="0.3">-ve control</text>
<text x="465.9" y="387.1" font-size="9.3" text-anchor="start" font-weight="normal" fill="#111" stroke="#111" stroke-width="0.3">PAR2 siRNA</text>
<text x="378.8" y="313.6" font-size="8.2" text-anchor="start" font-weight="normal" fill="#111" stroke="#111" stroke-width="0.18" transform="rotate(-90 378.8 313.6)">Permeability (% OD)</text>
</svg>
</body></html>
